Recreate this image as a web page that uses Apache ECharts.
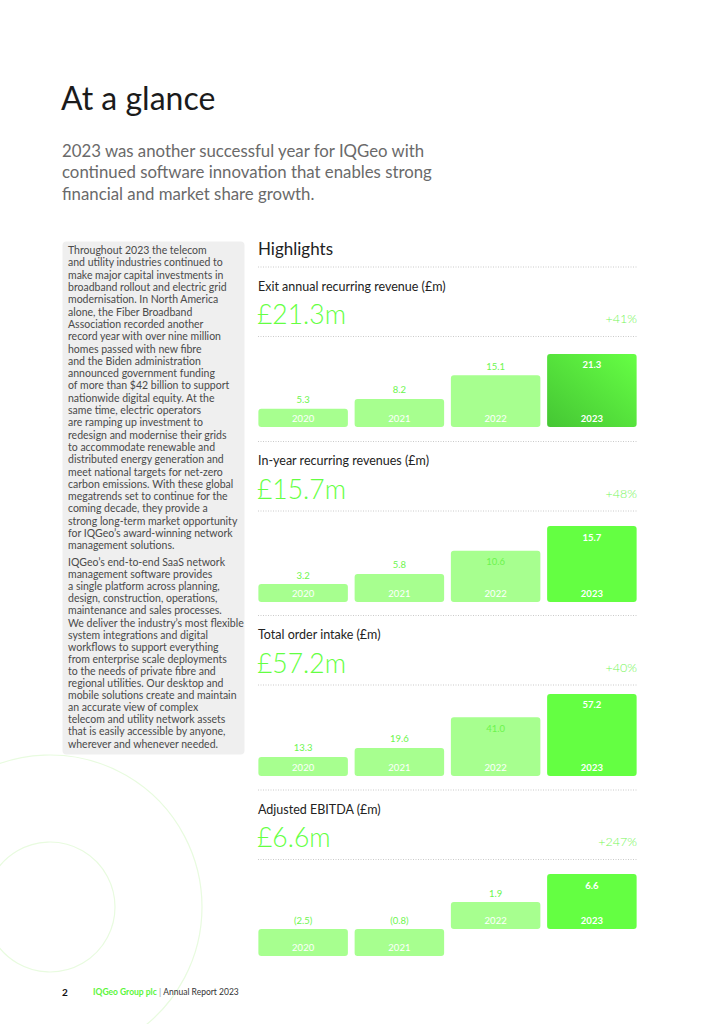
<!DOCTYPE html>
<html><head><meta charset="utf-8">
<script src="https://cdn.jsdelivr.net/npm/echarts@6/dist/echarts.min.js"></script>
<style>html,body{margin:0;padding:0;background:#fff}#c{width:724px;height:1024px}</style>
</head><body><div id="c"></div>
<script>
// ---------- data ----------
const years = ['2020', '2021', '2022', '2023'];
const arrValues = [5.3, 8.2, 15.1, 21.3];
const recurringValues = [3.2, 5.8, 10.6, 15.7];
const orderValues = [13.3, 19.6, 41.0, 57.2];
const ebitdaValues = [-2.5, -0.8, 1.9, 6.6];
const chartTitles = ['Exit annual recurring revenue (£m)', 'In-year recurring revenues (£m)', 'Total order intake (£m)', 'Adjusted EBITDA (£m)'];
const headlineValues = ['£21.3m', '£15.7m', '£57.2m', '£6.6m'];
const growthLabels = ['+41%', '+48%', '+40%', '+247%'];
const pageTitle = 'At a glance';
const subtitleLines = ['2023 was another successful year for IQGeo with', 'continued software innovation that enables strong', 'financial and market share growth.'];
const para1 = ['Throughout 2023 the telecom', 'and utility industries continued to', 'make major capital investments in', 'broadband rollout and electric grid', 'modernisation. In North America', 'alone, the Fiber Broadband', 'Association recorded another', 'record year with over nine million', 'homes passed with new fibre', 'and the Biden administration', 'announced government funding', 'of more than $42 billion to support', 'nationwide digital equity. At the', 'same time, electric operators', 'are ramping up investment to', 'redesign and modernise their grids', 'to accommodate renewable and', 'distributed energy generation and', 'meet national targets for net-zero', 'carbon emissions. With these global', 'megatrends set to continue for the', 'coming decade, they provide a', 'strong long-term market opportunity', 'for IQGeo\u2019s award-winning network', 'management solutions.'];
const para2 = ['IQGeo\u2019s end-to-end SaaS network', 'management software provides', 'a single platform across planning,', 'design, construction, operations,', 'maintenance and sales processes.', 'We deliver the industry\u2019s most flexible', 'system integrations and digital', 'workflows to support everything', 'from enterprise scale deployments', 'to the needs of private fibre and', 'regional utilities. Our desktop and', 'mobile solutions create and maintain', 'an accurate view of complex', 'telecom and utility network assets', 'that is easily accessible by anyone,', 'wherever and whenever needed.'];

// ---------- layout / style ----------
const FONT = 'Lato, "Noto Sans", sans-serif';
const GREEN = '#64ff42';
const LIGHT = '#a7ff8f';
const VALUE_GREEN = '#6cf54d';
const sections = [
  { data: arrValues, line: 267, gridTop: 341.3, gridH: 85.7, min: 0, max: 25, minH: 18, inside: [false, false, false, true], gradient: true },
  { data: recurringValues, line: 441.5, gridTop: 514.9, gridH: 87.1, min: 0, max: 18, minH: 18, inside: [false, false, true, true] },
  { data: orderValues, line: 615.5, gridTop: 682.8, gridH: 93.2, min: 0, max: 65, minH: 18, inside: [false, false, true, true] },
  { data: ebitdaValues, line: 790, gridTop: 870.7, gridH: 91.7, min: -4, max: 7, minH: 27, inside: [false, false, false, true] }
];

const chart = echarts.init(document.getElementById('c'), null, { renderer: 'svg' });

const graphic = [];
// decorative circles
graphic.push({ type: 'circle', z: 0, shape: { cx: 50, cy: 907, r: 152 }, style: { fill: 'none', stroke: '#e8fbdf', lineWidth: 1.2 } });
graphic.push({ type: 'circle', z: 0, shape: { cx: 50, cy: 907, r: 65 }, style: { fill: 'none', stroke: '#e8fbdf', lineWidth: 1.2 } });
// title + subtitle
graphic.push({ type: 'text', x: 61, y: 97, style: { text: pageTitle, fontSize: 32, fontFamily: FONT, fill: '#1b1b1b', verticalAlign: 'middle' } });
graphic.push({ type: 'text', x: 62, y: 140, style: { text: subtitleLines.join('\n'), fontSize: 16.8, lineHeight: 21.3, fontFamily: FONT, fill: '#6a6a6a', verticalAlign: 'top' } });
// left box
graphic.push({ type: 'rect', shape: { x: 62.5, y: 241.5, width: 182, height: 513, r: 4 }, style: { fill: '#efefef' } });
graphic.push({ type: 'text', x: 68, y: 244, style: { text: para1.join('\n'), fontSize: 10.5, lineHeight: 12.3, fontFamily: FONT, fill: '#4a4a4a', verticalAlign: 'top' } });
graphic.push({ type: 'text', x: 68, y: 556, style: { text: para2.join('\n'), fontSize: 10.5, lineHeight: 12.1, fontFamily: FONT, fill: '#4a4a4a', verticalAlign: 'top' } });
// Highlights
graphic.push({ type: 'text', x: 258, y: 248, style: { text: 'Highlights', fontSize: 17, fontFamily: FONT, fill: '#222', verticalAlign: 'middle' } });

function dotted(y) {
  return { type: 'line', shape: { x1: 258, y1: y, x2: 637, y2: y }, style: { stroke: '#bcbcbc', lineWidth: 0.8, lineDash: [1, 1.5] } };
}

const grids = [], xAxes = [], yAxes = [], series = [];
const fmt = v => v < 0 ? '(' + Math.abs(v).toFixed(1) + ')' : v.toFixed(1);

sections.forEach((s, i) => {
  graphic.push(dotted(s.line));
  graphic.push({ type: 'text', x: 258, y: s.line + 19.3, style: { text: chartTitles[i], fontSize: 12.5, fontFamily: FONT, fill: '#222', verticalAlign: 'middle' } });
  graphic.push({ type: 'text', x: 257, y: s.line + 47, style: { text: headlineValues[i], fontSize: 26.5, fontWeight: 300, fontFamily: FONT, fill: GREEN, verticalAlign: 'middle' } });
  graphic.push({ type: 'text', x: 637, y: s.line + 51.5, style: { text: growthLabels[i], fontSize: 12.5, fontWeight: 300, fontFamily: FONT, fill: '#76f558', align: 'right', verticalAlign: 'middle' } });
  graphic.push(dotted(s.line + 69.5));

  grids.push({ left: 255, width: 385, top: s.gridTop, height: s.gridH });
  xAxes.push({ type: 'category', gridIndex: i, data: years, show: false });
  yAxes.push({ type: 'value', gridIndex: i, min: s.min, max: s.max, show: false });

  const darkColor = s.gradient
    ? new echarts.graphic.LinearGradient(0, 1, 1, 0, [{ offset: 0, color: '#45c634' }, { offset: 1, color: '#66ff44' }])
    : GREEN;

  series.push({
    type: 'bar', xAxisIndex: i, yAxisIndex: i, barWidth: 89.5, barGap: '-100%', barMinHeight: s.minH,
    silent: true, animation: false,
    data: s.data.map((v, j) => ({
      value: v,
      itemStyle: { color: j === 3 ? darkColor : LIGHT, borderRadius: 3 },
      label: { fontWeight: j === 3 ? 'bold' : 'normal' }
    })),
    label: { show: true, position: 'insideBottom', distance: 4, color: '#fff', fontSize: 9.5, fontFamily: FONT, formatter: p => years[p.dataIndex] }
  });
  series.push({
    type: 'bar', xAxisIndex: i, yAxisIndex: i, barWidth: 89.5, barGap: '-100%', barMinHeight: s.minH,
    silent: true, animation: false, z: 3,
    itemStyle: { color: 'rgba(0,0,0,0)' },
    data: s.data.map((v, j) => ({
      value: v,
      label: {
        position: s.inside[j] ? 'insideTop' : 'top',
        distance: s.inside[j] ? 6 : 4,
        color: j === 3 ? '#fff' : VALUE_GREEN,
        fontWeight: j === 3 ? 'bold' : 'normal'
      }
    })),
    label: { show: true, fontSize: 9.5, fontFamily: FONT, formatter: p => fmt(p.value) }
  });
});

// footer
graphic.push({ type: 'text', x: 62, y: 992, style: { text: '2', fontSize: 10, fontWeight: 'bold', fontFamily: FONT, fill: '#111', verticalAlign: 'middle' } });
graphic.push({ type: 'text', x: 93, y: 992, style: { text: '{g|IQGeo Group plc}{s| | }{d|Annual Report 2023}', fontFamily: FONT, verticalAlign: 'middle',
  rich: { g: { fontSize: 8.5, fontWeight: 'bold', fill: '#5cf53c', fontFamily: FONT }, s: { fontSize: 8.5, fill: '#999', fontFamily: FONT }, d: { fontSize: 8.5, fill: '#333', fontFamily: FONT } } } });

chart.setOption({
  animation: false,
  grid: grids, xAxis: xAxes, yAxis: yAxes, series: series,
  graphic: { elements: graphic }
});
</script>
</body></html>
